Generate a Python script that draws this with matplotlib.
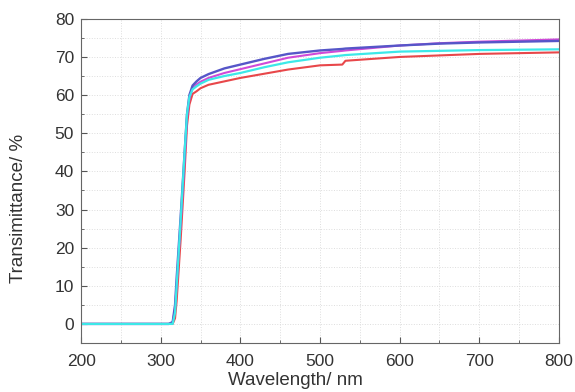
import matplotlib
matplotlib.use("Agg")
import matplotlib.pyplot as plt
from matplotlib.ticker import MultipleLocator

wavelength = [200, 310, 315, 318, 320, 325, 330, 333, 336, 340, 345, 350, 360, 380, 400,
              430, 460, 500, 528, 532, 600, 650, 700, 750, 800]
blue = [0, 0, 0.5, 5, 12, 28, 45, 55, 60, 62.5, 63.6, 64.5, 65.5, 67, 68,
        69.5, 70.8, 71.7, 72.1, 72.2, 73.0, 73.5, 73.8, 74.0, 74.2]
magenta = [0, 0, 0.3, 4, 10, 26, 43, 54, 59, 61.8, 62.8, 63.5, 64.5, 65.8, 66.8,
           68.3, 69.8, 71, 71.6, 71.7, 73.0, 73.6, 74, 74.3, 74.6]
cyan = [0, 0, 0, 3, 10, 27, 45, 55, 59.5, 61.5, 62.3, 63, 64, 65, 65.8,
        67.3, 68.6, 69.8, 70.4, 70.5, 71.4, 71.6, 71.8, 71.9, 72]
red = [0, 0, 0, 1.5, 6, 22, 40, 52, 57.5, 60.3, 61, 61.8, 62.7, 63.6, 64.5,
       65.6, 66.7, 67.8, 68.0, 69.0, 70, 70.4, 70.8, 71, 71.2]

plt.rcParams['font.family'] = ['Liberation Sans', 'DejaVu Sans']
fig = plt.figure(figsize=(5.75, 3.92), dpi=100)
ax = fig.add_axes([0.141, 0.125, 0.831, 0.827])

ax.plot(wavelength, red, color='#e8474a', lw=1.5)
ax.plot(wavelength, magenta, color='#d04ad8', lw=1.5)
ax.plot(wavelength, blue, color='#5656c8', lw=1.7)
ax.plot(wavelength, cyan, color='#3de8e8', lw=1.6)

ax.set_xlim(200, 800)
ax.set_ylim(-5, 80)
ax.xaxis.set_major_locator(MultipleLocator(100))
ax.xaxis.set_minor_locator(MultipleLocator(50))
ax.yaxis.set_major_locator(MultipleLocator(10))
ax.yaxis.set_minor_locator(MultipleLocator(5))
ax.grid(True, which='both', linestyle=':', color='#dddddd', lw=0.7)
ax.tick_params(which='both', direction='in', colors='#555555', labelcolor='#333333')
ax.tick_params(which='major', length=4, labelsize=12.5, pad=5)
ax.tick_params(axis='x', which='major', pad=8)
ax.tick_params(which='minor', length=2.5)
for s in ax.spines.values():
    s.set_color('#666666')
ax.set_xlabel('Wavelength/ nm', fontsize=13.5, color='#333333')
ax.set_ylabel('Transimittance/ %', fontsize=13.5, color='#333333')
ax.xaxis.set_label_coords(0.448, -0.117, transform=ax.transAxes)
ax.yaxis.set_label_coords(-0.132, 0.415, transform=ax.transAxes)
ax.xaxis.label.set_verticalalignment('center')
ax.yaxis.label.set_verticalalignment('center')

fig.savefig('out.png', dpi=100)
